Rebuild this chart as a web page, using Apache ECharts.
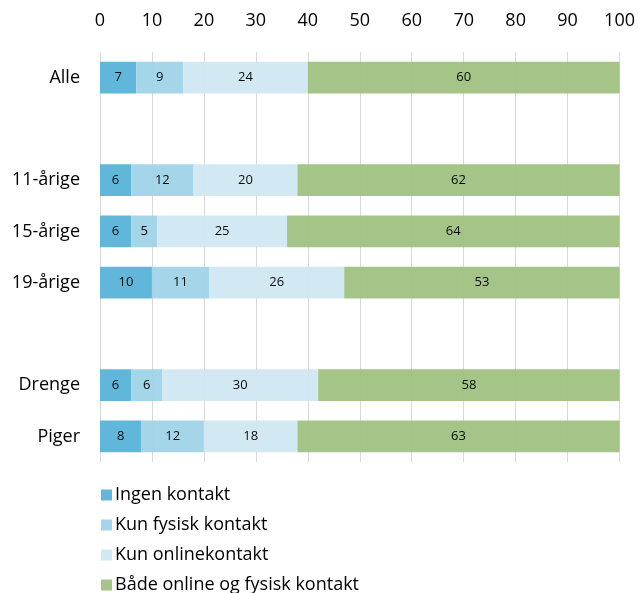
<!DOCTYPE html>
<html>
<head>
<meta charset="utf-8">
<script src="https://cdn.jsdelivr.net/npm/echarts@6/dist/echarts.min.js"></script>
<style>
  html, body { margin: 0; padding: 0; background: #fff; }
  #chart { width: 638px; height: 593px; }
</style>
</head>
<body>
<div id="chart"></div>
<script>
// Groups (empty strings make the spacer rows between blocks)
const categories = ['Alle', '', '11-årige', '15-årige', '19-årige', '', 'Drenge', 'Piger'];

// Share (%) in each contact type
const ingenKontakt  = [7, null, 6, 6, 10, null, 6, 8];
const kunFysisk     = [9, null, 12, 5, 11, null, 6, 12];
const kunOnline     = [24, null, 20, 25, 26, null, 30, 18];
const baade         = [60, null, 62, 64, 53, null, 58, 63];

const seriesNames = ['Ingen kontakt', 'Kun fysisk kontakt', 'Kun onlinekontakt', 'Både online og fysisk kontakt'];
const colors = ['#58b3d7', '#a0d3e8', '#d0e8f2', '#9fc281'];
const xTicks = { min: 0, max: 100, interval: 10 };

const fontFamily = '"Open Sans", "Noto Sans", sans-serif';

const chart = echarts.init(document.getElementById('chart'), null, { renderer: 'canvas' });

const values = [ingenKontakt, kunFysisk, kunOnline, baade];

chart.setOption({
  animation: false,
  textStyle: { fontFamily: fontFamily },
  grid: { left: 100, right: 18, top: 52, height: 410, containLabel: false },
  xAxis: {
    type: 'value',
    position: 'top',
    min: xTicks.min, max: xTicks.max, interval: xTicks.interval,
    axisLine: { show: false },
    axisTick: { show: false },
    axisLabel: { color: '#000', fontSize: 18, margin: 22, fontFamily: fontFamily },
    splitLine: { lineStyle: { color: '#d9d9d9', width: 1 } }
  },
  yAxis: {
    type: 'category',
    data: categories,
    inverse: true,
    axisLine: { show: false },
    axisTick: { show: false },
    axisLabel: { color: '#000', fontSize: 18, margin: 20, fontFamily: fontFamily }
  },
  legend: {
    orient: 'vertical',
    left: 96,
    top: 480,
    height: 200,
    itemWidth: 11,
    itemHeight: 11,
    itemGap: 10,
    icon: 'rect',
    textStyle: { color: '#000', fontSize: 18, fontFamily: fontFamily, lineHeight: 20, padding: [0, 0, 0, -2] },
    data: seriesNames
  },
  series: values.map((vals, i) => ({
    name: seriesNames[i],
    type: 'bar',
    stack: 'total',
    data: vals,
    barCategoryGap: '38%',
    itemStyle: { color: colors[i], opacity: 0.95 },
    label: {
      show: true,
      position: 'inside',
      color: '#000',
      fontSize: 13,
      fontFamily: fontFamily,
      formatter: p => (p.value == null ? '' : String(p.value))
    }
  }))
});
</script>
</body>
</html>
